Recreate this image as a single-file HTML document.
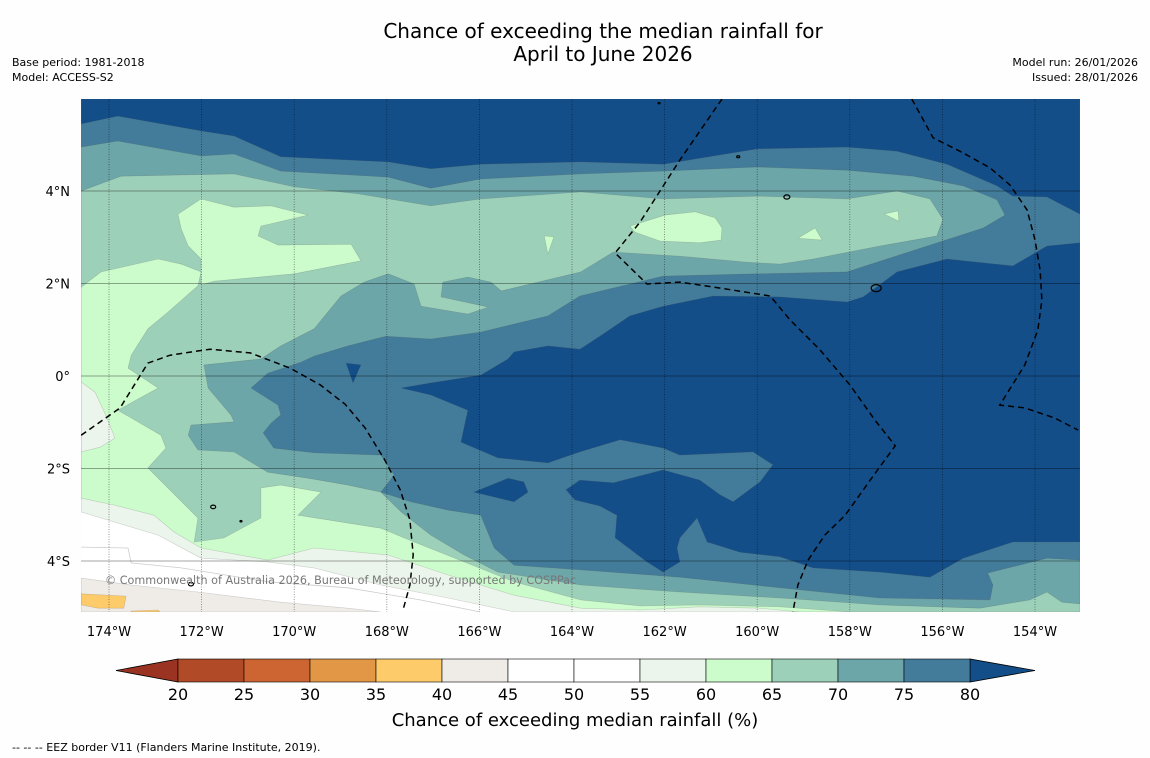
<!DOCTYPE html>
<html><head><meta charset="utf-8"><style>
html,body{margin:0;padding:0;background:#fefefe;}
svg{display:block;font-family:"DejaVu Sans","Liberation Sans",sans-serif;}
</style></head><body>
<svg id="chart" width="1150" height="758" viewBox="0 0 1150 758">
<text x="603" y="38" font-size="20" text-anchor="middle" fill="#000">Chance of exceeding the median rainfall for</text>
<text x="603" y="61" font-size="20" text-anchor="middle" fill="#000">April to June 2026</text>
<text x="12" y="66" font-size="11">Base period: 1981-2018</text>
<text x="12" y="81" font-size="11">Model: ACCESS-S2</text>
<text x="1138" y="66" font-size="11" text-anchor="end">Model run: 26/01/2026</text>
<text x="1138" y="81" font-size="11" text-anchor="end">Issued: 28/01/2026</text>
<defs><clipPath id="mapclip"><rect x="81" y="99" width="999" height="513"/></clipPath></defs>
<g id="map" clip-path="url(#mapclip)"></g>
<g id="axes"></g>
<g id="cbar"></g>
<text x="575" y="726" font-size="18" text-anchor="middle">Chance of exceeding median rainfall (%)</text>
<text x="12" y="751" font-size="11">--  --  -- EEZ border V11 (Flanders Marine Institute, 2019).</text>
</svg>
<script>
// ---- data ----
const lonTicks = [-174,-172,-170,-168,-166,-164,-162,-160,-158,-156,-154];
const latTicks = [4,2,0,-2,-4];
const cbLevels = [20,25,30,35,40,45,50,55,60,65,70,75,80];
const cbColors = ["#b04a27","#cd6532","#e29746","#fecb6b","#efece7","#ffffff","#ffffff","#ebf5eb","#ccfccc","#9dd0b9","#6ca6a8","#437b9a"];
const cbLowColor = "#9a3322";
const cbHighColor = "#134e89";
const regionLevels = [55,60,65,70,75,80];
const regionColors = ["#ebf5eb","#ccfccc","#9dd0b9","#6ca6a8","#437b9a","#134e89"];
const bgColor = "#ffffff";
const beigeArea = [[-174.6,-4.37],[-173.52,-4.52],[-172.08,-4.67],[-170.29,-4.89],[-168.84,-5.02],[-168.13,-5.1],[-174.6,-5.1]];
const orangeArea1 = [[-174.6,-4.71],[-173.63,-4.76],[-173.68,-5.02],[-174.24,-5.02],[-174.6,-4.95]];
const orangeArea2 = [[-173.52,-5.08],[-172.94,-5.06],[-172.9,-5.1],[-173.52,-5.1]];
const contour50 = [[-174.6,-3.7],[-173.59,-3.72],[-173.52,-4.04],[-172.44,-4.15],[-170.57,-4.45],[-168.84,-4.58],[-167.28,-4.84],[-165.99,-5.1]];
const area55 = [[-174.6,5.99],[-153.03,5.99],[-153.03,-5.1],[-164.91,-5.1],[-165.25,-5.1],[-166.68,-4.8],[-168.13,-4.52],[-169.57,-4.15],[-170.57,-4.02],[-172.01,-3.94],[-172.94,-3.44],[-174.6,-2.94]];
const area60 = [[-174.6,5.99],[-153.03,5.99],[-153.03,-5.1],[-159.08,-5.1],[-159.94,-5.02],[-161.24,-4.99],[-162.53,-5.06],[-163.81,-5.02],[-165.25,-4.74],[-166.68,-4.3],[-167.97,-3.87],[-169.57,-3.72],[-170.57,-3.98],[-172.01,-3.72],[-172.6,-3.37],[-173.03,-3.01],[-173.89,-2.79],[-174.6,-2.64]];
const hole55 = [[-174.6,-0.13],[-174.3,-0.35],[-174.09,-0.8],[-173.87,-1.34],[-174.19,-1.54],[-174.6,-1.64]];
const area65 = [[-174.6,5.99],[-153.03,5.99],[-153.03,-5.1],[-157.99,-5.1],[-159.51,-4.99],[-161.24,-4.95],[-162.53,-4.97],[-163.81,-4.84],[-165.25,-4.45],[-166.33,-4.02],[-167.41,-3.59],[-168.13,-3.29],[-169.92,-3.01],[-169.42,-2.51],[-170.29,-2.36],[-170.72,-2.42],[-170.72,-3.07],[-171.52,-3.5],[-172.16,-3.59],[-172.08,-3.07],[-173.16,-1.99],[-172.77,-1.56],[-172.88,-1.28],[-173.81,-0.74],[-172.94,-0.26],[-173.59,0.17],[-173.52,0.45],[-173.16,1.02],[-172.73,1.38],[-172.08,1.95],[-172.01,2.25],[-172.44,2.42],[-172.94,2.53],[-174.17,2.25],[-174.6,1.92]];
const blob60a = [[-172.51,3.5],[-172.01,3.83],[-171.3,3.65],[-170.5,3.68],[-169.7,3.48],[-170.72,3.24],[-170.78,3.03],[-170.35,2.83],[-168.77,2.85],[-168.56,2.49],[-170.0,2.21],[-171.73,2.05],[-172.01,1.97],[-172.01,2.53],[-172.29,2.81],[-172.44,3.18]];
const blob60b = [[-164.6,3.03],[-164.39,3.01],[-164.52,2.64]];
const blob60c = [[-162.75,3.24],[-161.99,3.48],[-161.34,3.55],[-160.91,3.42],[-160.76,3.2],[-160.78,2.94],[-161.24,2.88],[-162.1,2.92],[-162.64,3.11]];
const blob60d = [[-159.12,2.98],[-158.75,3.2],[-158.6,2.94]];
const blob60e = [[-157.26,3.5],[-156.96,3.57],[-156.94,3.35]];
const area70 = [[-174.6,5.99],[-153.03,5.99],[-153.03,-4.93],[-153.42,-4.89],[-153.74,-4.67],[-154.11,-4.84],[-155.19,-5.02],[-157.35,-4.95],[-159.51,-4.8],[-161.67,-4.67],[-163.81,-4.52],[-165.6,-4.24],[-166.33,-3.87],[-167.05,-3.44],[-167.69,-2.94],[-168.13,-2.51],[-168.84,-2.36],[-169.7,-2.21],[-170.57,-2.08],[-171.3,-1.64],[-172.08,-1.6],[-172.29,-1.28],[-172.23,-1.06],[-171.3,-0.99],[-171.37,-0.84],[-171.86,-0.26],[-171.95,0.24],[-170.72,0.37],[-170.29,0.65],[-169.57,1.02],[-168.99,1.73],[-168.49,2.03],[-167.97,2.21],[-167.41,1.99],[-167.26,1.51],[-166.25,1.34],[-165.81,1.49],[-166.83,1.71],[-166.79,2.03],[-166.25,2.14],[-165.75,2.03],[-165.53,1.84],[-163.81,2.25],[-163.11,2.68],[-161.67,2.59],[-160.22,2.46],[-159.51,2.42],[-158.79,2.53],[-157.35,2.81],[-156.12,3.03],[-155.99,3.39],[-156.27,3.83],[-156.98,4.0],[-158.06,3.83],[-160.0,3.89],[-162.03,3.83],[-163.81,3.98],[-165.97,3.83],[-167.05,3.68],[-168.62,3.94],[-170.0,4.09],[-171.3,4.37],[-173.74,4.32],[-174.6,4.0]];
const area75 = [[-174.6,5.99],[-174.6,4.95],[-173.81,5.08],[-172.01,4.76],[-171.3,4.8],[-170.29,4.43],[-167.97,4.3],[-167.05,4.06],[-165.97,4.26],[-163.81,4.37],[-162.03,4.43],[-160.0,4.52],[-158.06,4.45],[-156.63,4.32],[-155.55,4.11],[-154.82,3.81],[-154.65,3.48],[-155.12,3.2],[-156.27,2.83],[-158.06,2.25],[-160.0,2.21],[-162.03,2.16],[-163.83,1.73],[-164.52,1.3],[-165.97,0.95],[-167.05,0.8],[-168.02,0.86],[-168.84,0.65],[-169.57,0.43],[-169.85,0.3],[-170.57,0.06],[-170.93,-0.26],[-170.35,-0.63],[-170.29,-0.84],[-170.5,-1.02],[-170.67,-1.23],[-170.44,-1.56],[-169.57,-1.66],[-168.13,-1.71],[-167.84,-2.14],[-168.13,-2.51],[-167.48,-2.72],[-166.68,-2.9],[-165.97,-3.01],[-165.68,-3.72],[-165.25,-4.09],[-163.83,-4.19],[-161.67,-4.35],[-159.51,-4.58],[-157.35,-4.8],[-154.97,-4.84],[-154.91,-4.52],[-155.02,-4.26],[-153.74,-3.94],[-153.03,-3.98],[-153.03,5.99]];
const area80top = [[-174.6,5.99],[-174.6,5.45],[-173.81,5.62],[-172.01,5.3],[-171.3,5.19],[-170.29,4.74],[-167.97,4.63],[-167.05,4.48],[-165.97,4.58],[-163.81,4.63],[-162.03,4.58],[-160.0,4.91],[-158.06,4.95],[-156.98,4.86],[-155.9,4.58],[-154.82,4.11],[-154.48,3.89],[-153.74,3.87],[-153.03,3.5],[-153.03,5.99]];
const area80main = [[-153.03,2.88],[-153.74,2.81],[-154.48,2.38],[-155.9,2.53],[-156.98,2.25],[-157.71,1.71],[-158.06,1.6],[-159.51,1.71],[-160.95,1.73],[-162.03,1.51],[-162.75,1.3],[-163.4,0.86],[-163.83,0.58],[-164.52,0.65],[-165.25,0.52],[-165.38,0.37],[-165.97,0.02],[-167.05,-0.15],[-167.69,-0.26],[-167.05,-0.41],[-166.25,-0.74],[-166.4,-1.43],[-165.6,-1.77],[-164.52,-1.88],[-163.83,-1.64],[-162.96,-1.38],[-162.03,-1.56],[-161.67,-1.71],[-160.09,-1.64],[-159.66,-1.92],[-159.94,-2.29],[-160.52,-2.72],[-160.8,-2.57],[-161.24,-2.25],[-162.03,-2.03],[-163.11,-2.31],[-163.83,-2.25],[-164.13,-2.46],[-163.94,-2.68],[-163.4,-2.81],[-163.03,-3.01],[-163.07,-3.5],[-162.38,-4.02],[-162.03,-4.24],[-161.67,-4.02],[-161.73,-3.72],[-161.67,-3.5],[-161.3,-3.07],[-161.08,-3.59],[-160.37,-3.81],[-159.51,-3.91],[-158.79,-4.15],[-157.35,-4.24],[-156.27,-4.35],[-155.55,-3.94],[-154.48,-3.59],[-153.03,-3.59]];
const blob80a = [[-168.88,0.28],[-168.56,0.24],[-168.73,-0.15]];
const blob80b = [[-166.12,-2.51],[-165.38,-2.21],[-165.04,-2.29],[-164.95,-2.51],[-165.25,-2.72]];
const eezLine1 = [[-174.6,-1.28],[-173.76,-0.69],[-173.16,0.28],[-172.68,0.45],[-171.82,0.58],[-170.95,0.5],[-170.09,0.17],[-169.44,-0.19],[-168.9,-0.61],[-168.47,-1.12],[-168.04,-1.82],[-167.71,-2.46],[-167.5,-3.11],[-167.43,-3.87],[-167.5,-4.52],[-167.65,-5.06]];
const eezLine2 = [[-160.76,5.99],[-161.67,4.67],[-162.53,3.33],[-163.07,2.66],[-162.38,1.99],[-161.67,2.03],[-160.8,1.9],[-159.72,1.73],[-159.29,1.21],[-158.64,0.56],[-158.0,-0.19],[-157.46,-0.95],[-157.02,-1.51],[-157.56,-2.25],[-158.1,-3.01],[-158.54,-3.44],[-158.9,-3.98],[-159.12,-4.52],[-159.23,-5.1]];
const eezLine3 = [[-156.66,5.99],[-156.2,5.15],[-155.58,4.84],[-154.97,4.5],[-154.54,4.13],[-154.17,3.59],[-154.0,2.94],[-153.89,2.29],[-153.85,1.64],[-153.94,0.99],[-154.22,0.24],[-154.76,-0.63],[-154.22,-0.69],[-153.57,-0.91],[-153.07,-1.17]];
const islandLons = [-159.36,-157.43,-171.75,-172.23,-162.12,-160.41,-171.15];
const islandLats = [3.87,1.9,-2.83,-4.5,5.9,4.74,-3.14];
const islandSizes = [3,5,2.5,2.5,1,1.5,1];

// ---- axes ----
const X0=109, PXLON=46.3, Y0=376, PXLAT=46.25;
function xScale(lon){return X0+(lon+174)*PXLON;}
function yScale(lat){return Y0-lat*PXLAT;}
const NS="http://www.w3.org/2000/svg";
function pts(a){return a.map(p=>xScale(p[0]).toFixed(1)+","+yScale(p[1]).toFixed(1)).join(" ");}
const map=document.getElementById("map");
function poly(parent,a,fill,name){
  const e=document.createElementNS(NS,"polygon");
  e.setAttribute("points",pts(a));e.setAttribute("fill",fill);
  e.setAttribute("stroke","rgba(80,80,80,0.25)");e.setAttribute("stroke-width","0.6");
  
  
  parent.appendChild(e);return e;
}
const bg=document.createElementNS(NS,"rect");
bg.setAttribute("x",81);bg.setAttribute("y",99);bg.setAttribute("width",999);bg.setAttribute("height",513);bg.setAttribute("fill",bgColor);


map.appendChild(bg);
poly(map,beigeArea,cbColors[4],"area-40-45");
poly(map,orangeArea1,cbColors[3],"area-35-40-a");
poly(map,orangeArea2,cbColors[3],"area-35-40-b");
const c50=document.createElementNS(NS,"polyline");
c50.setAttribute("points",pts(contour50));c50.setAttribute("fill","none");c50.setAttribute("stroke","#cccccc");c50.setAttribute("stroke-width","0.8");


map.appendChild(c50);
poly(map,area55,regionColors[0],"area-above-55");
poly(map,area60,regionColors[1],"area-above-60");
poly(map,hole55,regionColors[0],"area-55-60-patch");
poly(map,area65,regionColors[2],"area-above-65");
[blob60a,blob60b,blob60c,blob60d,blob60e].forEach((b,i)=>poly(map,b,regionColors[1],"area-60-65-patch-"+i));
poly(map,area70,regionColors[3],"area-above-70");
poly(map,area75,regionColors[4],"area-above-75");
poly(map,area80top,regionColors[5],"area-above-80-north");
poly(map,area80main,regionColors[5],"area-above-80-main");
poly(map,blob80a,regionColors[5],"area-above-80-patch-a");
poly(map,blob80b,regionColors[5],"area-above-80-patch-b");
// gridlines
const axes=document.getElementById("axes");
lonTicks.forEach(l=>{
  const ln=document.createElementNS(NS,"line");
  ln.setAttribute("x1",xScale(l));ln.setAttribute("x2",xScale(l));ln.setAttribute("y1",99);ln.setAttribute("y2",612);
  ln.setAttribute("stroke","rgba(0,0,0,0.5)");ln.setAttribute("stroke-width","0.8");ln.setAttribute("stroke-dasharray","1,1.5");
  
  
  map.appendChild(ln);
  const t=document.createElementNS(NS,"text");
  t.setAttribute("x",xScale(l));t.setAttribute("y",636);t.setAttribute("font-size","13");t.setAttribute("text-anchor","middle");
  t.textContent=Math.abs(l)+"°W";
  
  
  axes.appendChild(t);
});
latTicks.forEach(l=>{
  const ln=document.createElementNS(NS,"line");
  ln.setAttribute("x1",81);ln.setAttribute("x2",1080);ln.setAttribute("y1",yScale(l));ln.setAttribute("y2",yScale(l));
  ln.setAttribute("stroke","rgba(0,0,0,0.35)");ln.setAttribute("stroke-width","1");
  
  
  map.appendChild(ln);
  const t=document.createElementNS(NS,"text");
  t.setAttribute("x",70);t.setAttribute("y",yScale(l)+5);t.setAttribute("font-size","13");t.setAttribute("text-anchor","end");
  t.textContent=l===0?"0°":(Math.abs(l)+"°"+(l>0?"N":"S"));
  
  
  axes.appendChild(t);
});
[eezLine1,eezLine2,eezLine3].forEach((a,i)=>{
  const e=document.createElementNS(NS,"polyline");
  e.setAttribute("points",pts(a));e.setAttribute("fill","none");e.setAttribute("stroke","#000");e.setAttribute("stroke-width","1.5");e.setAttribute("stroke-dasharray","6,4");
  
  
  map.appendChild(e);
});
islandLons.forEach((lo,i)=>{
  const e=document.createElementNS(NS,"ellipse");
  e.setAttribute("cx",xScale(lo));e.setAttribute("cy",yScale(islandLats[i]));e.setAttribute("rx",islandSizes[i]);e.setAttribute("ry",islandSizes[i]*0.7);
  e.setAttribute("fill","none");e.setAttribute("stroke","#000");e.setAttribute("stroke-width","1.2");
  
  
  map.appendChild(e);
});
const cp=document.createElementNS(NS,"text");
cp.setAttribute("x",105);cp.setAttribute("y",584);cp.setAttribute("font-size","11.2");cp.setAttribute("fill","#777");
cp.textContent="© Commonwealth of Australia 2026, Bureau of Meteorology, supported by COSPPac";


map.appendChild(cp);
// colorbar
const cb=document.getElementById("cbar");
const CBX0=178, CBX1=970, CBY=659, CBH=23;
function cbScale(v){return CBX0+(v-cbLevels[0])/(cbLevels[cbLevels.length-1]-cbLevels[0])*(CBX1-CBX0);}
const lt=document.createElementNS(NS,"polygon");
lt.setAttribute("points",`116,${CBY+CBH/2} ${CBX0},${CBY} ${CBX0},${CBY+CBH}`);lt.setAttribute("fill",cbLowColor);lt.setAttribute("stroke","#000");lt.setAttribute("stroke-width","0.8");


cb.appendChild(lt);
const rt=document.createElementNS(NS,"polygon");
rt.setAttribute("points",`1035,${CBY+CBH/2} ${CBX1},${CBY} ${CBX1},${CBY+CBH}`);rt.setAttribute("fill",cbHighColor);rt.setAttribute("stroke","#000");rt.setAttribute("stroke-width","0.8");


cb.appendChild(rt);
cbColors.forEach((c,i)=>{
  const r=document.createElementNS(NS,"rect");
  const x=cbScale(cbLevels[i]);
  r.setAttribute("x",x);r.setAttribute("y",CBY);r.setAttribute("width",cbScale(cbLevels[i+1])-x);r.setAttribute("height",CBH);
  r.setAttribute("fill",c);r.setAttribute("stroke","#000");r.setAttribute("stroke-width","0.6");
  
  
  cb.appendChild(r);
});
cbLevels.forEach(v=>{
  const t=document.createElementNS(NS,"text");
  t.setAttribute("x",cbScale(v));t.setAttribute("y",700);t.setAttribute("font-size","16");t.setAttribute("text-anchor","middle");
  t.textContent=v;
  
  
  cb.appendChild(t);
});
</script>
</body></html>
